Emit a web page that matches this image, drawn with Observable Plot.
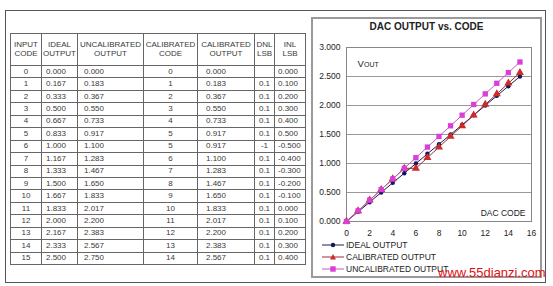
<!DOCTYPE html>
<html>
<head>
<meta charset="utf-8">
<script src="https://cdn.jsdelivr.net/npm/d3@7"></script>
<script src="https://cdn.jsdelivr.net/npm/@observablehq/plot@0.6"></script>
<style>
  html, body { margin: 0; padding: 0; background: #fff; }
  body { width: 553px; height: 286px; position: relative; overflow: hidden; font-family: "Liberation Sans", Arial, sans-serif; }
  #outer { position: absolute; left: 5px; top: 10px; width: 541px; height: 273px; border: 1px solid #555; box-sizing: border-box; }
  #panel { position: absolute; left: 311px; top: 17px; width: 231px; height: 261px; border: 2px solid #9a9a9a; box-sizing: border-box; }
  #title { position: absolute; left: 311px; width: 231px; top: 21px; text-align: center; font-weight: bold; font-size: 10px; color: #222; }
  table { position: absolute; left: 10px; top: 33px; border-collapse: collapse; table-layout: fixed; font-size: 8px; color: #3a3a3a; }
  td { border: 1px solid #666; padding: 0; line-height: 1; white-space: nowrap; overflow: visible; color: #3a3a3a; }
  tr.head td { height: 31px; text-align: center; line-height: 8.5px; color: #3a3a3a; }
  tr.row td { height: 11.45px; }
  #legend { position: absolute; left: 322px; top: 239px; font-size: 8.5px; color: #222; }
  #legend div { height: 12.2px; display: flex; align-items: center; }
  #legend svg { margin-right: 2px; }
  #wm { position: absolute; left: 438px; top: 265px; font-size: 13px; color: #e01010; }
  #plot { position: absolute; left: 300px; top: 40px; }
</style>
</head>
<body>
<div id="outer"></div>
<div id="panel"></div>
<div id="title">DAC OUTPUT vs. CODE</div>
<div id="tablewrap"></div>
<div id="plot"></div>
<div id="legend"></div>
<div id="wm">www.55dianzi.com</div>
<script>
const headers = [["INPUT","CODE"],["IDEAL","OUTPUT"],["UNCALIBRATED","OUTPUT"],["CALIBRATED","CODE"],["CALIBRATED","OUTPUT"],["DNL","LSB"],["INL","LSB"]];
const inputCode = [0,1,2,3,4,5,6,7,8,9,10,11,12,13,14,15];
const idealOutput = [0.000,0.167,0.333,0.500,0.667,0.833,1.000,1.167,1.333,1.500,1.667,1.833,2.000,2.167,2.333,2.500];
const uncalOutput = [0.000,0.183,0.367,0.550,0.733,0.917,1.100,1.283,1.467,1.650,1.833,2.017,2.200,2.383,2.567,2.750];
const calCode = [0,1,2,3,4,5,5,6,7,8,9,10,11,12,13,14];
const calOutput = [0.000,0.183,0.367,0.550,0.733,0.917,0.917,1.100,1.283,1.467,1.650,1.833,2.017,2.200,2.383,2.567];
const dnlLsb = ["","0.1","0.1","0.1","0.1","0.1","-1","0.1","0.1","0.1","0.1","0.1","0.1","0.1","0.1","0.1"];
const inlLsb = ["0.000","0.100","0.200","0.300","0.400","0.500","-0.500","-0.400","-0.300","-0.200","-0.100","0.000","0.100","0.200","0.300","0.400"];
const xTicks = [0,2,4,6,8,10,12,14,16];
const yTicks = [0,0.5,1,1.5,2,2.5,3];
const seriesNames = ["IDEAL OUTPUT","CALIBRATED OUTPUT","UNCALIBRATED OUTPUT"];

// table
const colW = [31,36,66,54,57,20,31];
const align = [["center",0],["left",4],["left",6],["center",0],["left",8],["center",0],["left",3]];
const fmt = d3.format(".3f");
let html = "<table><colgroup>" + colW.map(w => `<col style="width:${w}px">`).join("") + "</colgroup>";
html += "<tr class='head'>" + headers.map(h => `<td>${h[0]}<br>${h[1]}</td>`).join("") + "</tr>";
inputCode.forEach((c, i) => {
  const vals = [c, fmt(idealOutput[i]), fmt(uncalOutput[i]), calCode[i], fmt(calOutput[i]), dnlLsb[i], inlLsb[i]];
  html += "<tr class='row'>" + vals.map((v, j) => `<td style="text-align:${align[j][0]};padding-left:${align[j][1]}px">${v}</td>`).join("") + "</tr>";
});
html += "</table>";
document.getElementById("tablewrap").innerHTML = html;

// chart data
const data = inputCode.map((c, i) => ({code: c, ideal: idealOutput[i], cal: calOutput[i], uncal: uncalOutput[i]}));
const cIdeal = "#14145a", cIdealLine = "#1e1e50";
const cCal = "#cc2b2b", cCalLine = "#9a2c3c";
const cUncal = "#d83ed8", cUncalLine = "#c65ac6";

const chart = Plot.plot({
  width: 240, height: 200,
  marginLeft: 46, marginRight: 9, marginTop: 7, marginBottom: 19,
  style: {fontFamily: "Liberation Sans, Arial, sans-serif", fontSize: "8.5px", color: "#222", background: "transparent", overflow: "visible"},
  x: {domain: [0, 16]},
  y: {domain: [0, 3]},
  marks: [
    Plot.gridY(yTicks, {stroke: "#999", strokeOpacity: 1}),
    Plot.frame({stroke: "#888"}),
    Plot.axisY({ticks: yTicks, tickFormat: ".3f", tickSize: 0, tickPadding: 6, label: null}),
    Plot.axisX({ticks: xTicks, tickSize: 0, tickPadding: 8, label: null}),
    Plot.line(data, {x: "code", y: "ideal", stroke: cIdealLine, strokeWidth: 1}),
    Plot.line(data, {x: "code", y: "cal", stroke: cCalLine, strokeWidth: 1}),
    Plot.line(data, {x: "code", y: "uncal", stroke: cUncalLine, strokeWidth: 1}),
    Plot.dot(data, {x: "code", y: "ideal", r: 2.2, fill: cIdeal, stroke: "none"}),
    Plot.dot(data, {x: "code", y: "cal", r: 3, symbol: "triangle", fill: cCal, stroke: "none"}),
    Plot.dot(data, {x: "code", y: "uncal", r: 3, symbol: "square", fill: cUncal, stroke: "none"}),
    Plot.text(["V"], {frameAnchor: "top-left", dx: 11, dy: 19, text: d => d, textAnchor: "start", lineAnchor: "bottom", fontSize: 9.5, fill: "#222"}),
    Plot.text(["OUT"], {frameAnchor: "top-left", dx: 17.5, dy: 19, text: d => d, textAnchor: "start", lineAnchor: "bottom", fontSize: 7, fill: "#222"}),
    Plot.text(["DAC CODE"], {frameAnchor: "bottom-right", dx: -6, dy: -6, text: d => d, textAnchor: "end", lineAnchor: "bottom", fontSize: 8.5, fill: "#222"})
  ]
});
document.getElementById("plot").appendChild(chart);

// legend
const legendItems = [
  {name: seriesNames[0], line: cIdealLine, fill: cIdeal, sym: "circle"},
  {name: seriesNames[1], line: cCalLine, fill: cCal, sym: "triangle"},
  {name: seriesNames[2], line: cUncalLine, fill: cUncal, sym: "square"}
];
const leg = document.getElementById("legend");
legendItems.forEach(it => {
  let marker = "";
  if (it.sym === "circle") marker = `<circle cx="11" cy="4" r="2.2" fill="${it.fill}"/>`;
  if (it.sym === "triangle") marker = `<path d="M11,1 L14,6.5 L8,6.5 Z" fill="${it.fill}"/>`;
  if (it.sym === "square") marker = `<rect x="8.3" y="1.3" width="5.4" height="5.4" fill="${it.fill}"/>`;
  const div = document.createElement("div");
  div.innerHTML = `<svg width="22" height="8"><line x1="0" y1="4" x2="22" y2="4" stroke="${it.line}" stroke-width="1"/>${marker}</svg><span>${it.name}</span>`;
  leg.appendChild(div);
});
</script>
</body>
</html>
